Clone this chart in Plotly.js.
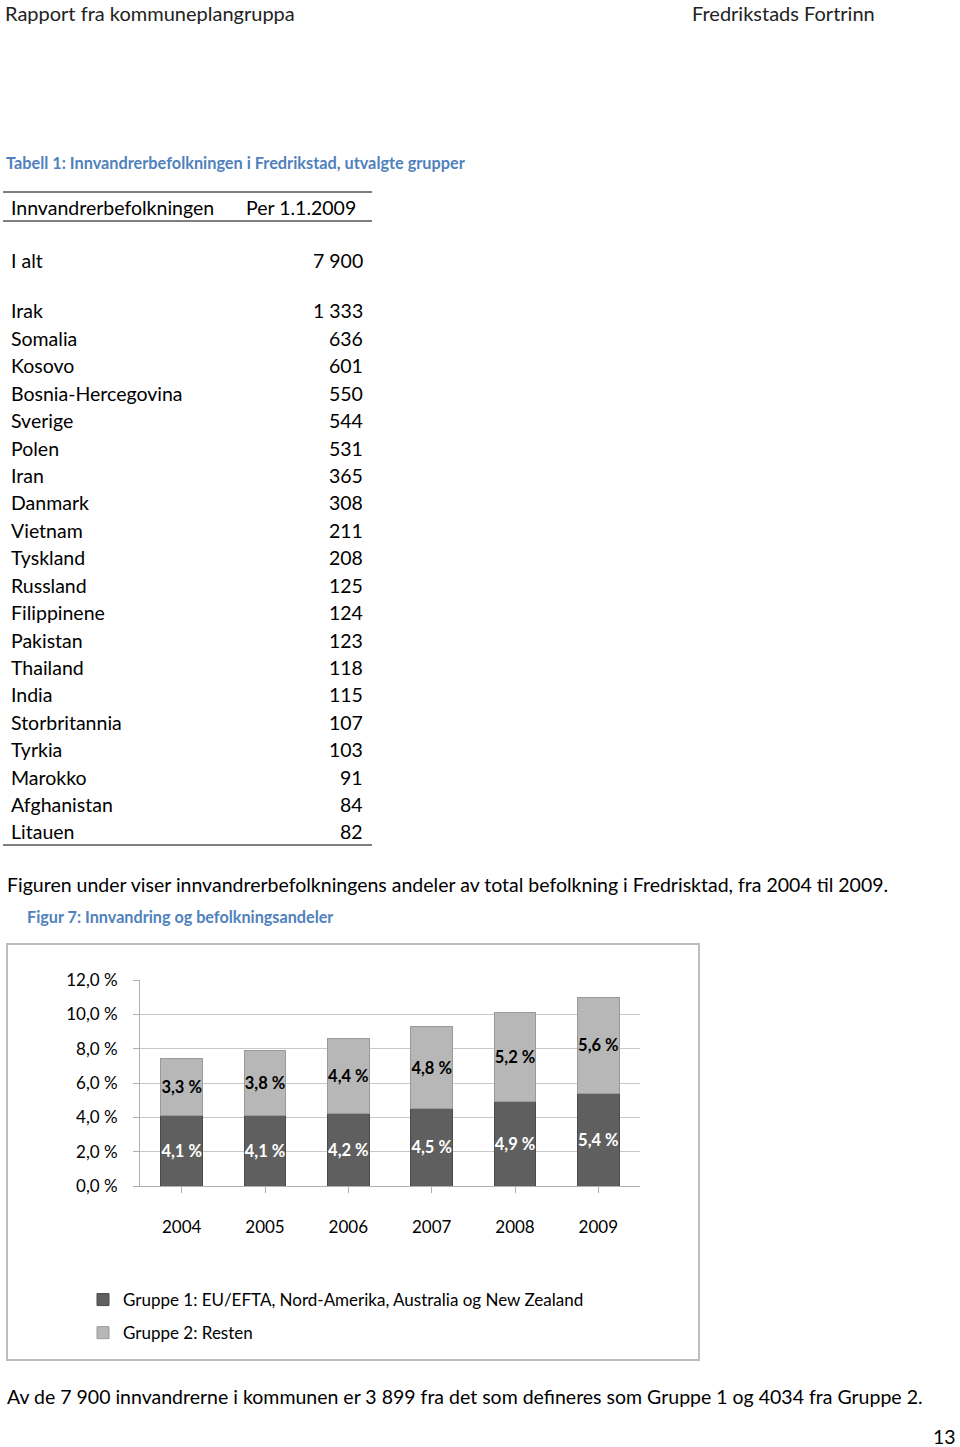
<!DOCTYPE html>
<html><head><meta charset="utf-8">
<script src="https://cdn.plot.ly/plotly-3.0.1.min.js"></script>
<style>html,body{margin:0;padding:0;background:#fff}#chart{width:960px;height:1447px}</style>
</head><body><div id="chart"></div>
<script>
// ---- data ----
const countries = ['Irak','Somalia','Kosovo','Bosnia-Hercegovina','Sverige','Polen','Iran','Danmark','Vietnam','Tyskland','Russland','Filippinene','Pakistan','Thailand','India','Storbritannia','Tyrkia','Marokko','Afghanistan','Litauen'];
const counts = [1333,636,601,550,544,531,365,308,211,208,125,124,123,118,115,107,103,91,84,82];
const totalLabel = 'I alt';
const totalCount = 7900;
const years = ['2004','2005','2006','2007','2008','2009'];
const gruppe1 = [4.1,4.1,4.2,4.5,4.9,5.4];
const gruppe2 = [3.3,3.8,4.4,4.8,5.2,5.6];
const yTicks = [0,2,4,6,8,10,12];

// ---- helpers ----
const W=960,H=1447;
const X=px=>px/W, Y=py=>1-py/H;
const FONT='Lato, "Liberation Sans", sans-serif';
const fmtInt=n=>String(n).replace(/\B(?=(\d{3})+(?!\d))/g,' ');
const fmtPct=v=>v.toFixed(1).replace('.',',')+' %';
const BODY=19.5;

const ann=[];
function txt(s,x,y,o){ann.push(Object.assign({text:s,x:X(x),y:Y(y),xref:'paper',yref:'paper',xanchor:'left',yanchor:'middle',showarrow:false,font:{family:FONT,size:BODY,color:'#000'}},o||{}));}

txt('Rapport fra kommuneplangruppa',3,13,{font:{family:FONT,size:20,color:'#222'}});
txt('Fredrikstads Fortrinn',877,13,{xanchor:'right',font:{family:FONT,size:20,color:'#222'}});
txt('<b>Tabell 1: Innvandrerbefolkningen i Fredrikstad, utvalgte grupper</b>',4,162,{font:{family:FONT,size:16.3,color:'#4f81bd'}});
txt('Innvandrerbefolkningen',9,207);
txt('Per 1.1.2009',244,207);
txt(totalLabel,9,260);
txt(fmtInt(totalCount),365,260,{xanchor:'right'});
countries.forEach((c,i)=>{
  const y=311+i*27.42;
  txt(c,9,y);
  txt(fmtInt(counts[i]),365,y,{xanchor:'right'});
});
txt('Figuren under viser innvandrerbefolkningens andeler av total befolkning i Fredrisktad, fra 2004 til 2009.',5,884);
txt('<b>Figur 7: Innvandring og befolkningsandeler</b>',25,916,{font:{family:FONT,size:16.2,color:'#4f81bd'}});
txt('Av de 7 900 innvandrerne i kommunen er 3 899 fra det som defineres som Gruppe 1 og 4034 fra Gruppe 2.',5,1396);
txt('13',958,1436,{xanchor:'right'});

const shapes=[
  {type:'line',xref:'paper',yref:'paper',x0:X(3),x1:X(372),y0:Y(192),y1:Y(192),line:{color:'#000',width:1}},
  {type:'line',xref:'paper',yref:'paper',x0:X(3),x1:X(372),y0:Y(221),y1:Y(221),line:{color:'#000',width:1}},
  {type:'line',xref:'paper',yref:'paper',x0:X(3),x1:X(372),y0:Y(845),y1:Y(845),line:{color:'#000',width:1}},
  {type:'rect',xref:'paper',yref:'paper',x0:X(7),x1:X(699),y0:Y(944),y1:Y(1360),line:{color:'#bdbdbd',width:2}}
];

const traces=[
  {type:'bar',name:'Gruppe 1: EU/EFTA, Nord-Amerika, Australia og New Zealand',legendgroup:'g1',x:years,y:gruppe1,
   marker:{color:'#5f5f5f',line:{color:'#4a4a4a',width:1}},width:0.5,
   text:gruppe1.map(v=>'<b>'+fmtPct(v)+'</b>'),textposition:'inside',insidetextanchor:'middle',textangle:0,constraintext:'none',
   textfont:{family:FONT,size:16.5,color:'#fff'},hoverinfo:'none'},
  {type:'bar',name:'Gruppe 2: Resten',legendgroup:'g2',x:years,y:gruppe2,
   marker:{color:'#b7b7b7',line:{color:'#9a9a9a',width:1}},width:0.5,
   text:gruppe2.map(v=>'<b>'+fmtPct(v)+'</b>'),textposition:'inside',insidetextanchor:'middle',textangle:0,constraintext:'none',
   textfont:{family:FONT,size:16.5,color:'#000'},hoverinfo:'none'}
];

const layout={
  width:W,height:H,margin:{l:0,r:0,t:0,b:0},paper_bgcolor:'#fff',plot_bgcolor:'rgba(0,0,0,0)',
  barmode:'stack',showlegend:true,uniformtext:{mode:false},
  font:{family:FONT,size:17,color:'#000'},
  xaxis:{domain:[X(140),X(640)],anchor:'y',type:'category',showgrid:false,showline:true,linecolor:'#b0b0b0',
    ticks:'outside',ticklen:6,tickcolor:'#b0b0b0',ticklabelstandoff:20,tickfont:{family:FONT,size:17,color:'#000'}},
  yaxis:{domain:[Y(1186),Y(980)],anchor:'x',range:[0,12],tickvals:yTicks,ticktext:yTicks.map(fmtPct),
    showgrid:true,gridcolor:'#c8c8c8',gridwidth:1,showline:true,linecolor:'#b0b0b0',zeroline:false,
    ticks:'outside',ticklen:6,tickcolor:'#b0b0b0',ticklabelstandoff:12,tickfont:{family:FONT,size:17,color:'#000'}},
  legend:{x:X(83),y:Y(1282),xanchor:'left',yanchor:'top',orientation:'v',traceorder:'grouped',
    font:{family:FONT,size:17,color:'#000'},bgcolor:'rgba(0,0,0,0)',itemwidth:30,tracegroupgap:8},
  annotations:ann,shapes:shapes
};
Plotly.newPlot('chart',traces,layout,{staticPlot:true,displayModeBar:false});
</script></body></html>
